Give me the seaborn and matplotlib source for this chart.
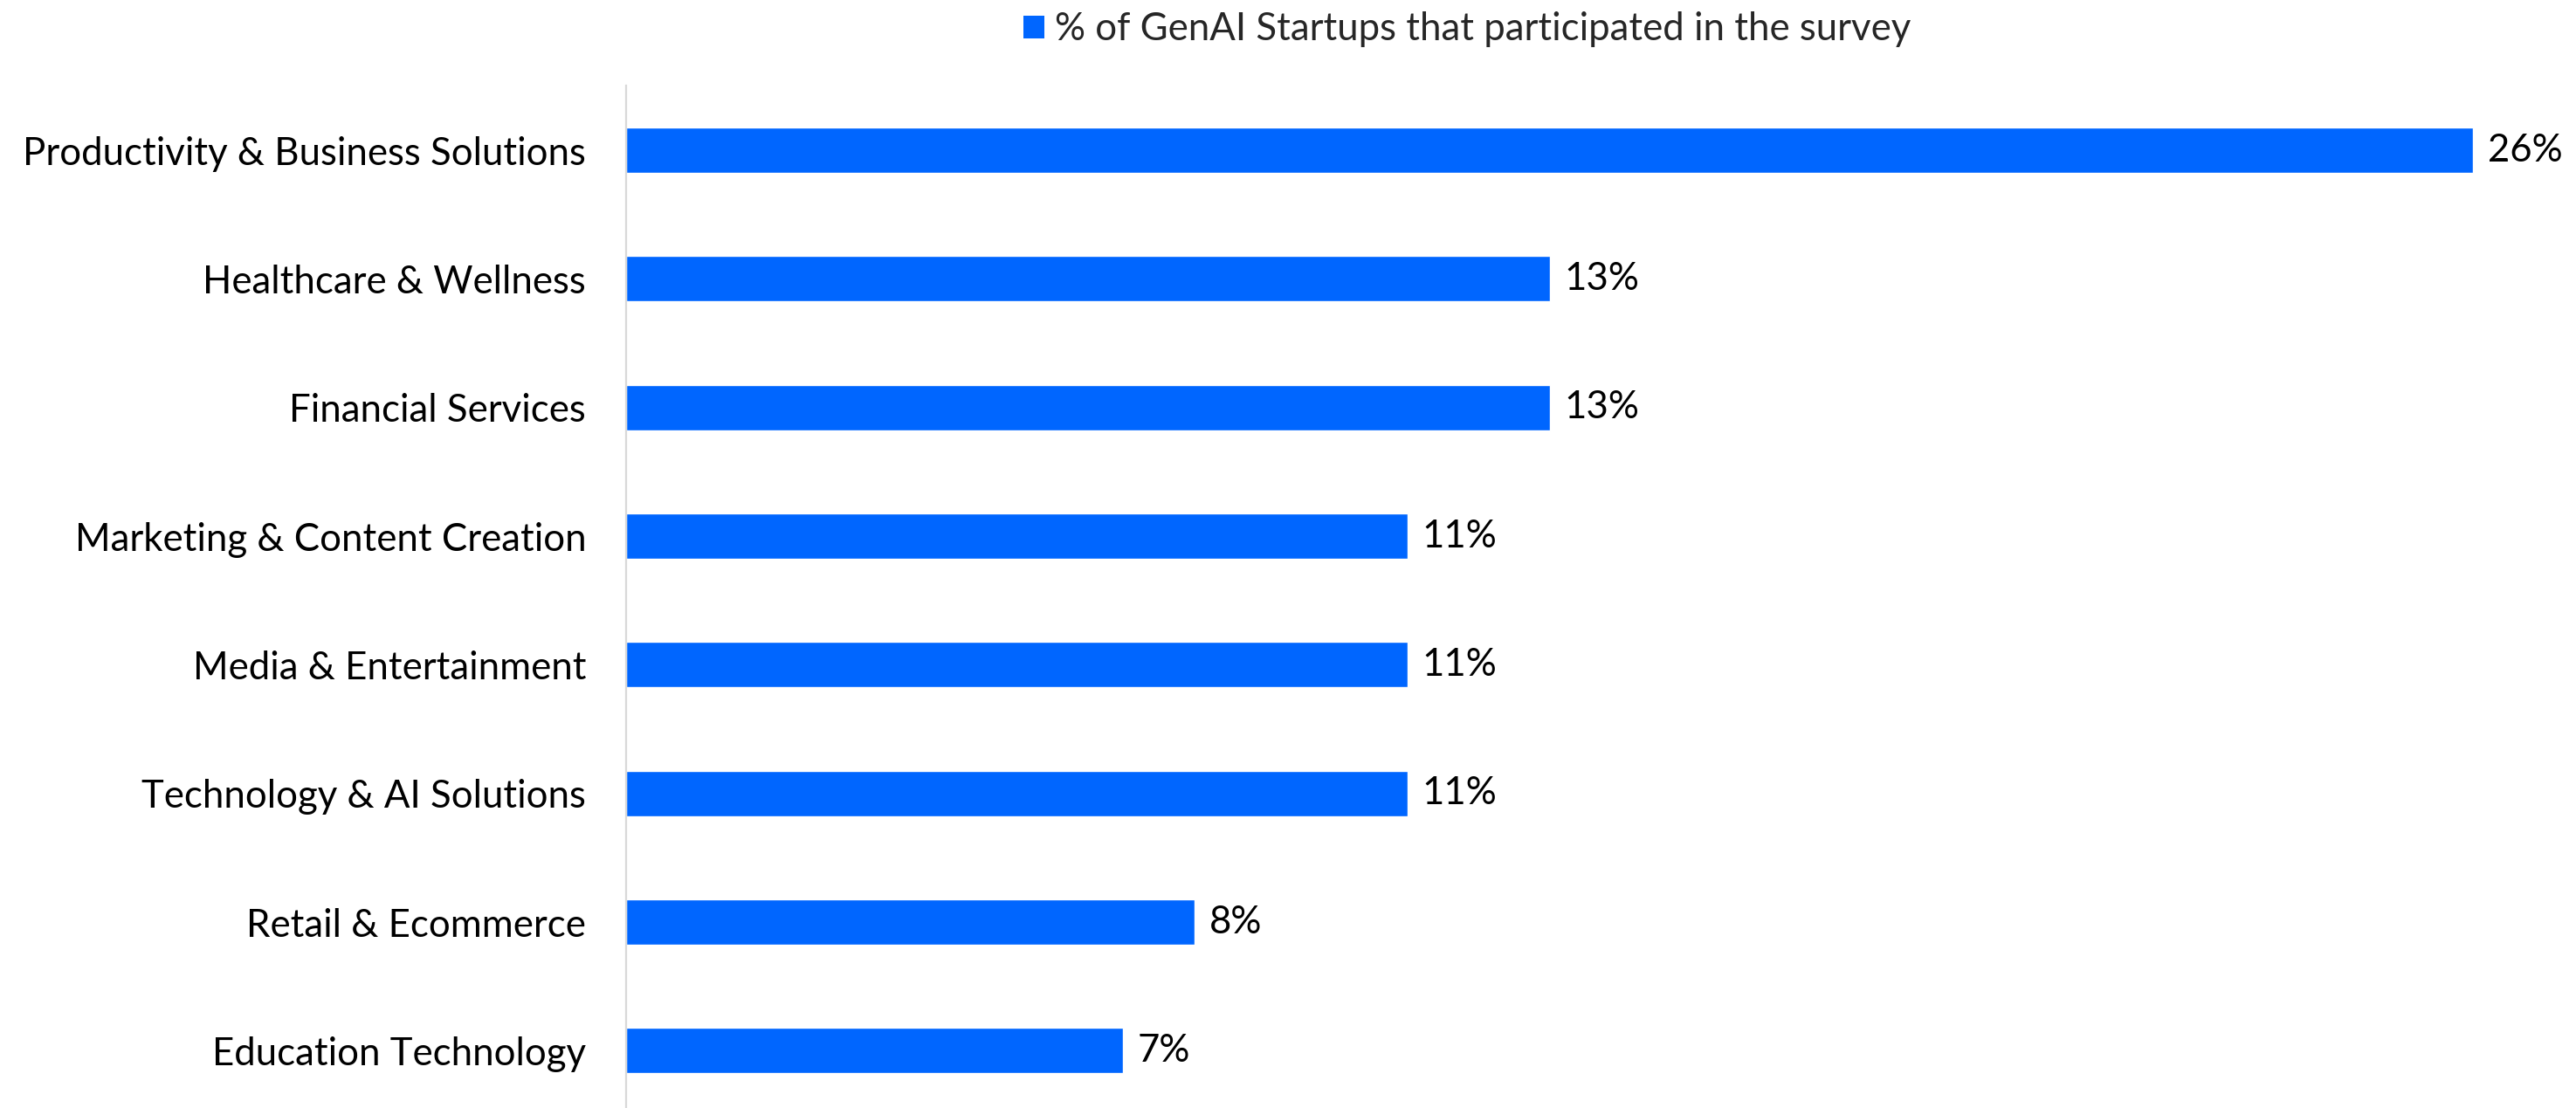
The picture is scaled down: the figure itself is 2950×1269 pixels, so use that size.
import matplotlib
matplotlib.use("Agg")
import matplotlib.pyplot as plt
import seaborn as sns
import pandas as pd
from matplotlib.patches import Patch

# Survey breakdown of GenAI startups by sector
categories = [
    "Productivity & Business Solutions",
    "Healthcare & Wellness",
    "Financial Services",
    "Marketing & Content Creation",
    "Media & Entertainment",
    "Technology & AI Solutions",
    "Retail & Ecommerce",
    "Education Technology",
]
shares = [26, 13, 13, 11, 11, 11, 8, 7]
series_name = "% of GenAI Startups that participated in the survey"

BAR_COLOR = "#0066FF"
FONT = ["Lato", "DejaVu Sans"]
FS = 31.5

sns.set_theme(style="white")
plt.rcParams["font.family"] = FONT

df = pd.DataFrame({"sector": categories, "share": shares})

W, H, DPI = 2950, 1269, 100
fig = plt.figure(figsize=(W / DPI, H / DPI), dpi=DPI)
ax_left = 717 / W
ax_right = 1.0
ax_height = 1178.6 / H
ax_bottom = (H - 1277) / H
ax = fig.add_axes([ax_left, ax_bottom, ax_right - ax_left, ax_height])

sns.barplot(data=df, x="share", y="sector", orient="h", color=BAR_COLOR,
            width=0.353, saturation=1, ax=ax)

ax.set_xlim(0, (W - 717) / 81.35)
ax.set_ylim(7.5, -0.5)

ax.bar_label(ax.containers[0], labels=[f"{v}%" for v in shares],
             padding=12, fontsize=FS, color="black")

ax.set_xlabel("")
ax.set_ylabel("")
ax.set_xticks([])
ax.tick_params(axis="y", length=0, pad=33, labelsize=FS, labelcolor="black")

for side in ["top", "right", "bottom"]:
    ax.spines[side].set_visible(False)
ax.spines["left"].set_color("#D9D9D9")
ax.spines["left"].set_linewidth(1.6)

handle = Patch(facecolor=BAR_COLOR, edgecolor="none")
fig.legend([handle], [series_name], loc="center left",
           bbox_to_anchor=(1172 / W, 1 - 34 / H), frameon=False,
           fontsize=FS, handlelength=0.55, handleheight=0.55,
           handletextpad=0.27, borderpad=0, borderaxespad=0)

fig.savefig("out.png", dpi=DPI, facecolor="white")
